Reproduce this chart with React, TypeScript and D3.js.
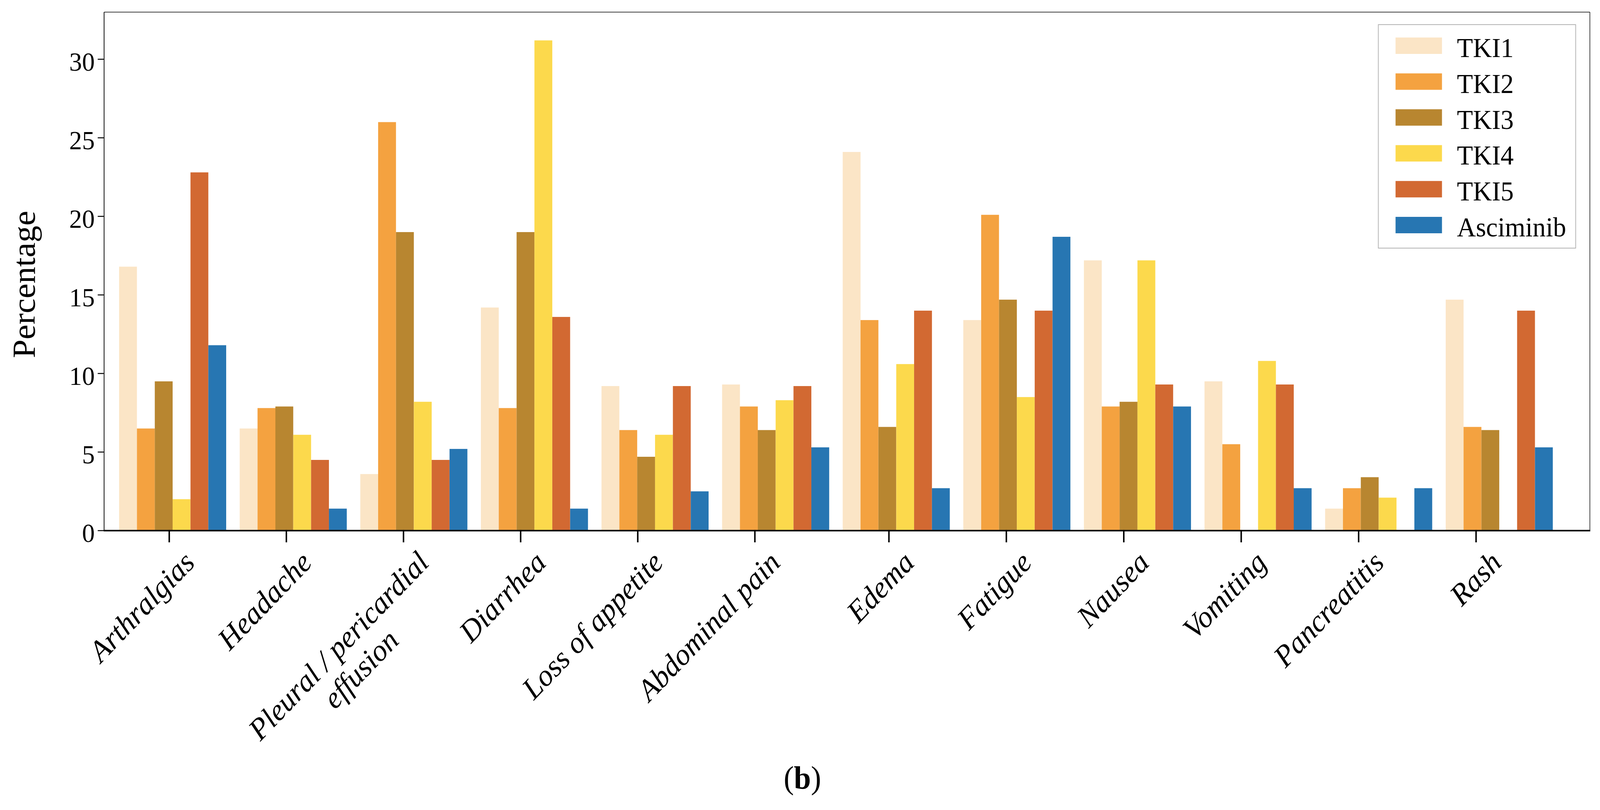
import React, { useEffect, useRef } from "react";
import * as d3 from "d3";

const categories = [
  "Arthralgias",
  "Headache",
  "Pleural / pericardial\neffusion",
  "Diarrhea",
  "Loss of appetite",
  "Abdominal pain",
  "Edema",
  "Fatigue",
  "Nausea",
  "Vomiting",
  "Pancreatitis",
  "Rash",
];

const seriesNames = ["TKI1", "TKI2", "TKI3", "TKI4", "TKI5", "Asciminib"];
const seriesColors = ["#FBE5C6", "#F4A240", "#B88630", "#FCD94C", "#D26932", "#2776B2"];

const tki1 = [16.8, 6.5, 3.6, 14.2, 9.2, 9.3, 24.1, 13.4, 17.2, 9.5, 1.4, 14.7];
const tki2 = [6.5, 7.8, 26.0, 7.8, 6.4, 7.9, 13.4, 20.1, 7.9, 5.5, 2.7, 6.6];
const tki3 = [9.5, 7.9, 19.0, 19.0, 4.7, 6.4, 6.6, 14.7, 8.2, 0, 3.4, 6.4];
const tki4 = [2.0, 6.1, 8.2, 31.2, 6.1, 8.3, 10.6, 8.5, 17.2, 10.8, 2.1, 0];
const tki5 = [22.8, 4.5, 4.5, 13.6, 9.2, 9.2, 14.0, 14.0, 9.3, 9.3, 0, 14.0];
const asciminib = [11.8, 1.4, 5.2, 1.4, 2.5, 5.3, 2.7, 18.7, 7.9, 2.7, 2.7, 5.3];

const yTicks = [0, 5, 10, 15, 20, 25, 30];
const yLabel = "Percentage";
const panelLabel = "b";

const W = 4273;
const H = 2073;
const FONT = "'Palatino Linotype', 'Book Antiqua', Palatino, 'Liberation Serif', serif";

export default function App() {
  const ref = useRef<SVGSVGElement | null>(null);

  useEffect(() => {
    const svg = d3.select(ref.current);
    svg.selectAll("*").remove();

    const left = 278, right = 4246, top = 31, bottom = 1358;
    const series = [tki1, tki2, tki3, tki4, tki5, asciminib];

    const x = d3.scaleBand<string>().domain(categories).range([300, 4165]).paddingInner(0.112).paddingOuter(0.056);
    const xs = d3.scaleBand<string>().domain(seriesNames).range([0, x.bandwidth()]).padding(0);
    const y = d3.scaleLinear().domain([0, 33]).range([bottom, top]);
    // tick marks in the original sit at their own positions
    const tickX = d3.scaleLinear().domain([0, 5, 6, 11]).range([452, 2016, 2374, 3942]);

    svg.append("rect").attr("x", 0).attr("y", 0).attr("width", W).attr("height", H).attr("fill", "#fff");

    // bars
    const g = svg.append("g");
    categories.forEach((c, ci) => {
      seriesNames.forEach((s, si) => {
        const v = series[si][ci];
        if (v <= 0) return;
        g.append("rect")
          .attr("x", (x(c) as number) + (xs(s) as number))
          .attr("y", y(v))
          .attr("width", xs.bandwidth())
          .attr("height", y(0) - y(v))
          .attr("fill", seriesColors[si]);
      });
    });

    // frame
    svg.append("line").attr("x1", left).attr("x2", right).attr("y1", top).attr("y2", top).attr("stroke", "#000").attr("stroke-width", 1.5);
    svg.append("line").attr("x1", right).attr("x2", right).attr("y1", top).attr("y2", bottom).attr("stroke", "#000").attr("stroke-width", 1.5);
    svg.append("line").attr("x1", left).attr("x2", left).attr("y1", top).attr("y2", bottom).attr("stroke", "#000").attr("stroke-width", 2);
    svg.append("line").attr("x1", left - 1).attr("x2", right + 1).attr("y1", bottom).attr("y2", bottom).attr("stroke", "#000").attr("stroke-width", 4);

    // y ticks
    yTicks.forEach((t) => {
      svg.append("line").attr("x1", left - 17).attr("x2", left).attr("y1", y(t)).attr("y2", y(t)).attr("stroke", "#000").attr("stroke-width", 2.5);
      svg.append("text").attr("x", left - 25).attr("y", y(t) + 29).attr("text-anchor", "end")
        .attr("font-family", FONT).attr("font-size", 68).attr("fill", "#000").text(String(t));
    });

    // x ticks & labels
    categories.forEach((c, ci) => {
      const tx = tickX(ci);
      svg.append("line").attr("x1", tx).attr("x2", tx).attr("y1", bottom).attr("y2", bottom + 30).attr("stroke", "#000").attr("stroke-width", 4);
      const lines = c.split("\n");
      const lg = svg.append("g").attr("transform", `translate(${tx + 72},1444) rotate(-45)`);
      const t1 = lg.append("text").attr("x", 0).attr("y", 0).attr("text-anchor", "end")
        .attr("font-family", FONT).attr("font-style", "italic").attr("font-size", 78).attr("fill", "#000").text(lines[0]);
      if (lines.length > 1) {
        const len1 = (t1.node() as SVGTextElement).getComputedTextLength();
        t1.attr("text-anchor", "middle").attr("x", -len1 / 2);
        lines.slice(1).forEach((ln, li) => {
          lg.append("text").attr("x", -len1 / 2).attr("y", 84 * (li + 1)).attr("text-anchor", "middle")
            .attr("font-family", FONT).attr("font-style", "italic").attr("font-size", 78).attr("fill", "#000").text(ln);
        });
      }
    });

    // y label
    svg.append("text").attr("transform", "translate(93,728) rotate(-90)").attr("text-anchor", "middle")
      .attr("font-family", FONT).attr("font-size", 86).attr("fill", "#000").text(yLabel);

    // legend
    const lgd = svg.append("g");
    lgd.append("rect").attr("x", 3681).attr("y", 63).attr("width", 527).attr("height", 572)
      .attr("fill", "#fff").attr("stroke", "#b3b3b3").attr("stroke-width", 2);
    const rowY = d3.scalePoint<string>().domain(seriesNames).range([117, 576]);
    seriesNames.forEach((s, i) => {
      const cy = rowY(s) as number;
      lgd.append("rect").attr("x", 3727).attr("y", cy - 21).attr("width", 124).attr("height", 42).attr("fill", seriesColors[i]);
      lgd.append("text").attr("x", 3891).attr("y", cy + 29).attr("font-family", FONT).attr("font-size", 70).attr("fill", "#000").text(s);
    });

    // panel label
    const pl = svg.append("text").attr("x", 2143).attr("y", 2018).attr("text-anchor", "middle")
      .attr("font-family", FONT).attr("font-size", 82).attr("fill", "#000");
    pl.append("tspan").text("(");
    pl.append("tspan").attr("font-weight", "bold").text(panelLabel);
    pl.append("tspan").text(")");
  }, []);

  return (
    <svg
      ref={ref}
      viewBox={`0 0 ${W} ${H}`}
      preserveAspectRatio="none"
      style={{ position: "fixed", left: 0, top: 0, width: "100vw", height: "100vh", display: "block", background: "#fff" }}
    />
  );
}
